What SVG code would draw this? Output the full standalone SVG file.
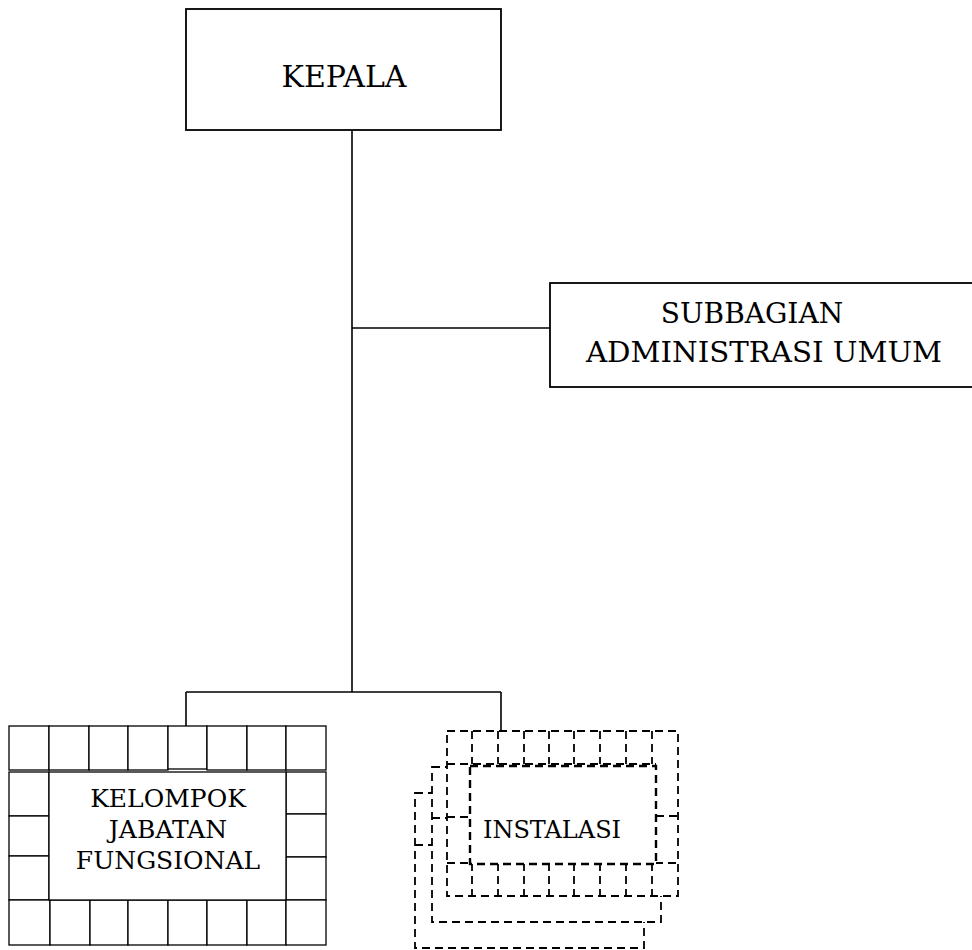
<svg xmlns="http://www.w3.org/2000/svg" width="972" height="950" viewBox="0 0 972 950">
<style>
.box{fill:#fff;stroke:#000;stroke-width:1.8}
.cell{fill:#fff;stroke:#000;stroke-width:1.3}
.dc{fill:none;stroke:#000;stroke-width:1.8;stroke-dasharray:8 5}
.dw{fill:#fff;stroke:#000;stroke-width:1.8;stroke-dasharray:8 5}
.di{fill:#fff;stroke:#000;stroke-width:2.4;stroke-dasharray:8 5}
.con{fill:none;stroke:#000;stroke-width:1.6}
text{font-family:"DejaVu Serif","Liberation Serif",serif;fill:#000;text-anchor:middle}
</style>
<rect width="972" height="950" fill="#fff"/>
<g id="connectors">
<path class="con" d="M352 130V692M352 328H550M186 692H501M186 692V726M501 692V731"/>
</g>
<g id="kepala">
<rect class="box" x="186" y="9" width="315" height="121"/>
<text x="344" y="87" font-size="30">KEPALA</text>
</g>
<g id="subbagian">
<rect class="box" x="550" y="283" width="430" height="104"/>
<text x="752" y="323" font-size="28">SUBBAGIAN</text>
<text x="764" y="362" font-size="28" textLength="356" lengthAdjust="spacingAndGlyphs">ADMINISTRASI UMUM</text>
</g>
<g id="kelompok">
<rect class="cell" x="9" y="726" width="40" height="44"/>
<rect class="cell" x="49" y="726" width="40" height="44"/>
<rect class="cell" x="89" y="726" width="39" height="44"/>
<rect class="cell" x="128" y="726" width="40" height="44"/>
<rect class="cell" x="168" y="726" width="39" height="43"/>
<rect class="cell" x="207" y="726" width="40" height="44"/>
<rect class="cell" x="247" y="726" width="39" height="44"/>
<rect class="cell" x="286" y="726" width="40" height="44"/>
<rect class="cell" x="9" y="772" width="40" height="44"/>
<rect class="cell" x="9" y="816" width="40" height="40"/>
<rect class="cell" x="9" y="856" width="40" height="44"/>
<rect class="cell" x="286" y="772" width="40" height="42"/>
<rect class="cell" x="286" y="814" width="40" height="43"/>
<rect class="cell" x="286" y="857" width="40" height="43"/>
<rect class="cell" x="9" y="900" width="41" height="45"/>
<rect class="cell" x="50" y="900" width="40" height="45"/>
<rect class="cell" x="90" y="900" width="38" height="45"/>
<rect class="cell" x="128" y="900" width="40" height="45"/>
<rect class="cell" x="168" y="900" width="39" height="45"/>
<rect class="cell" x="207" y="900" width="40" height="45"/>
<rect class="cell" x="247" y="900" width="39" height="45"/>
<rect class="cell" x="286" y="900" width="40" height="45"/>
<rect class="cell" x="49" y="772" width="237" height="128"/>
<text x="168" y="807" font-size="25">KELOMPOK</text>
<text x="168" y="838" font-size="25">JABATAN</text>
<text x="168" y="869" font-size="25">FUNGSIONAL</text>
</g>
<g id="instalasi">
<rect class="dw" x="415" y="793" width="229" height="155"/>
<path class="dc" d="M415 845H432"/>
<rect class="dw" x="432" y="767" width="229" height="155"/>
<path class="dc" d="M432 818H447"/>
<rect class="dw" x="447" y="731" width="231" height="165"/>
<path class="dc" d="M472 731V764M498 731V764M524 731V764M549 731V764M574 731V764M600 731V764M626 731V764M652 731V764M447 764H656"/>
<path class="dc" d="M472 863V896M498 863V896M524 863V896M549 863V896M574 863V896M600 863V896M626 863V896M652 863V896M447 863H678"/>
<path class="dc" d="M447 817H470M656 816H678"/>
<rect class="di" x="470" y="766" width="186" height="98"/>
<text x="552" y="838" font-size="24">INSTALASI</text>
</g>
</svg>
